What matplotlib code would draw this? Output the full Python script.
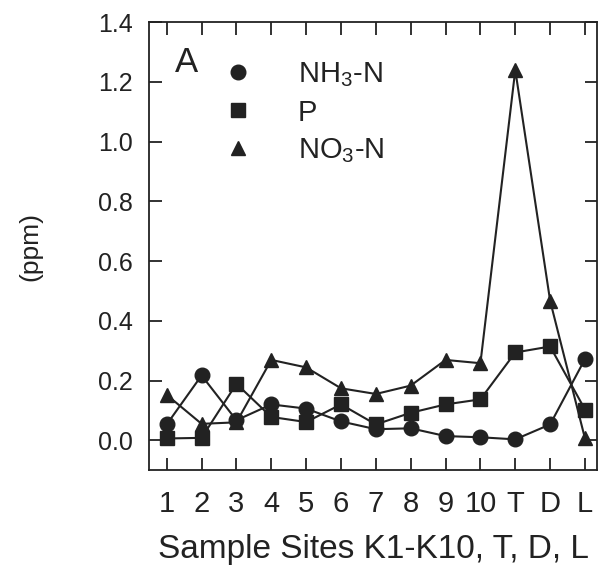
import matplotlib.pyplot as plt
from matplotlib.lines import Line2D

plt.rcParams['font.family'] = ['Liberation Sans', 'DejaVu Sans']
plt.rcParams['mathtext.fontset'] = 'custom'
plt.rcParams['mathtext.rm'] = 'Liberation Sans'

# sample sites K1-K10, T, D, L
sites = ['1', '2', '3', '4', '5', '6', '7', '8', '9', '10', 'T', 'D', 'L']
nh3_n = [0.053, 0.217, 0.067, 0.12, 0.106, 0.063, 0.037, 0.04, 0.014, 0.01, 0.003, 0.053, 0.272]
p_vals = [0.006, 0.008, 0.189, 0.078, 0.061, 0.12, 0.053, 0.092, 0.12, 0.137, 0.294, 0.314, 0.103]
no3_n = [0.152, 0.055, 0.06, 0.269, 0.244, 0.174, 0.155, 0.183, 0.269, 0.258, 1.24, 0.467, 0.006]

col = '#222222'
x = list(range(1, len(sites) + 1))

fig = plt.figure(figsize=(6.02, 5.84), dpi=100)
ax = fig.add_axes([0.248, 0.195, 0.744, 0.767])

ax.plot(x, nh3_n, color=col, lw=1.5, marker='o', ms=10.5)
ax.plot(x, p_vals, color=col, lw=1.5, marker='s', ms=9.5)
ax.plot(x, no3_n, color=col, lw=1.5, marker='^', ms=10.5)

ax.set_xlim(0.5, 13.35)
ax.set_ylim(-0.1, 1.4)
ax.set_xticks(x)
ax.set_xticklabels(sites)
ax.set_yticks([0.0, 0.2, 0.4, 0.6, 0.8, 1.0, 1.2, 1.4])
ax.set_yticklabels(['0.0', '0.2', '0.4', '0.6', '0.8', '1.0', '1.2', '1.4'])
ax.tick_params(axis='both', direction='in', length=9, width=1.3, color=col,
               labelcolor=col, top=True, right=True)
ax.tick_params(axis='x', pad=14, labelsize=21)
ax.tick_params(axis='y', pad=12, labelsize=18)
for s in ax.spines.values():
    s.set_linewidth(1.3)
    s.set_color(col)

ax.set_xlabel('Sample Sites K1-K10, T, D, L', fontsize=24, color=col, labelpad=12)
ax.set_ylabel('(ppm)', fontsize=19, color=col, labelpad=40)

ax.text(0.057, 0.911, 'A', transform=ax.transAxes, fontsize=25, color=col, va='center')

handles = [Line2D([], [], color=col, ls='none', marker='o', ms=10.5),
           Line2D([], [], color=col, ls='none', marker='s', ms=9.5),
           Line2D([], [], color=col, ls='none', marker='^', ms=10.5)]
labels = [r'NH$_\mathregular{3}$-N', 'P', r'NO$_\mathregular{3}$-N']
ax.legend(handles, labels, loc='upper left', bbox_to_anchor=(0.165, 0.915), frameon=False,
          fontsize=21, handlelength=1.0, handletextpad=1.55, borderpad=0, borderaxespad=0,
          labelspacing=0.33, labelcolor=col)

plt.savefig('out.png', dpi=100)
